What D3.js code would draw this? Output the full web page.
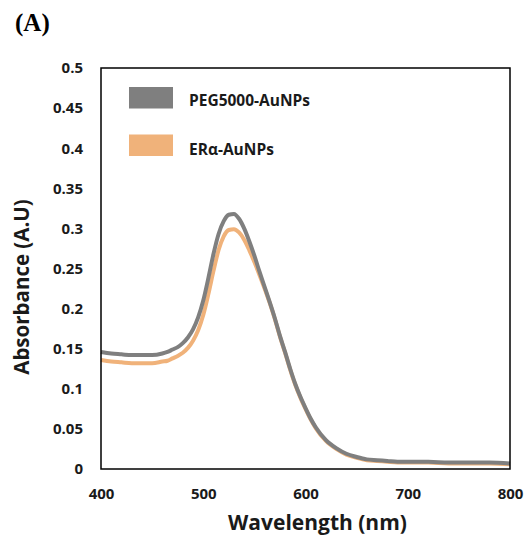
<!DOCTYPE html>
<html>
<head>
<meta charset="utf-8">
<script src="https://cdn.jsdelivr.net/npm/d3@7"></script>
<style>
  body { margin: 0; background: #fff; }
  .tick text { font-family: "Open Sans", sans-serif; font-weight: bold; font-size: 15px; fill: #1a1a1a; }
  .axis path { display: none; }
</style>
</head>
<body>
<svg id="chart"></svg>
<script>
// wavelength (nm)
const wavelengths = [400, 410, 420, 430, 440, 450, 460, 465, 470, 475, 480, 485, 490, 495, 500, 505, 510, 515, 520, 525,
  530, 535, 540, 545, 550, 555, 560, 565, 570, 575, 580, 585, 590, 595, 600, 605, 610, 620, 630, 640,
  650, 660, 670, 680, 690, 700, 720, 740, 760, 780, 800];

// absorbance, PEG5000-AuNPs
const pegValues = [0.146, 0.144, 0.143, 0.142, 0.142, 0.142, 0.144, 0.146, 0.149, 0.152, 0.157, 0.164, 0.174, 0.189, 0.210, 0.238, 0.268, 0.293, 0.309, 0.317,
  0.318, 0.312, 0.300, 0.284, 0.266, 0.246, 0.227, 0.208, 0.188, 0.166, 0.146, 0.125, 0.106, 0.090, 0.076, 0.063, 0.052, 0.036, 0.026, 0.019,
  0.015, 0.012, 0.011, 0.010, 0.009, 0.009, 0.009, 0.008, 0.008, 0.008, 0.007];

// absorbance, ERα-AuNPs
const eraValues = [0.136, 0.134, 0.133, 0.132, 0.132, 0.132, 0.134, 0.135, 0.138, 0.141, 0.145, 0.151, 0.160, 0.173, 0.192, 0.218, 0.247, 0.273, 0.290, 0.298,
  0.299, 0.295, 0.286, 0.273, 0.258, 0.242, 0.225, 0.207, 0.187, 0.165, 0.145, 0.124, 0.105, 0.089, 0.075, 0.062, 0.051, 0.035, 0.025, 0.018,
  0.014, 0.011, 0.010, 0.009, 0.008, 0.008, 0.008, 0.007, 0.007, 0.007, 0.006];

const seriesNames = ['PEG5000-AuNPs', 'ERα-AuNPs'];
const seriesColors = ['#7f7f7f', '#f0b27a'];
const yTicks = [0, 0.05, 0.1, 0.15, 0.2, 0.25, 0.3, 0.35, 0.4, 0.45, 0.5];
const xTicks = [400, 500, 600, 700, 800];

const width = 528, height = 541;
const margin = {top: 68, right: 18, bottom: 72, left: 101};
const innerW = width - margin.left - margin.right;
const innerH = height - margin.top - margin.bottom;

const svg = d3.select('#chart')
    .attr('width', width)
    .attr('height', height);

const chart = svg.append('g')
    .attr('transform', `translate(${margin.left},${margin.top})`);

const xScale = d3.scaleLinear().domain([400, 800]).range([0, innerW]);
const yScale = d3.scaleLinear().domain([0, 0.5]).range([innerH, 0]);

// axes, no tick marks
chart.append('g')
    .attr('class', 'axis x-axis')
    .attr('transform', `translate(0,${innerH})`)
    .call(d3.axisBottom(xScale).tickValues(xTicks).tickSize(0).tickPadding(19).tickFormat(d3.format('d')));

chart.append('g')
    .attr('class', 'axis y-axis')
    .call(d3.axisLeft(yScale).tickValues(yTicks).tickSize(0).tickPadding(18).tickFormat(d => d3.format('')(+d.toFixed(2))));

// curves
const series = [pegValues, eraValues];
const line = d3.line()
    .x((d, i) => xScale(wavelengths[i]))
    .y(d => yScale(d))
    .curve(d3.curveMonotoneX);

// draw orange first, grey on top
[1, 0].forEach(k => {
  chart.append('path')
      .datum(series[k])
      .attr('fill', 'none')
      .attr('stroke', seriesColors[k])
      .attr('stroke-width', 4)
      .attr('stroke-linejoin', 'round')
      .attr('d', line);
});

// plot frame
chart.append('rect')
    .attr('x', 0).attr('y', 0)
    .attr('width', innerW).attr('height', innerH)
    .attr('fill', 'none')
    .attr('stroke', '#000')
    .attr('stroke-width', 1.5);

// legend
const legend = chart.append('g').attr('transform', 'translate(28,19)');
seriesNames.forEach((name, i) => {
  const g = legend.append('g').attr('transform', `translate(0,${i * 47.5})`);
  g.append('rect')
      .attr('width', 44).attr('height', 21.5)
      .attr('fill', seriesColors[i]);
  g.append('text')
      .attr('x', 60).attr('y', 19 + i)
      .style('font-family', '"Open Sans", sans-serif')
      .style('font-weight', 'bold')
      .style('font-size', '15.5px')
      .style('fill', '#1a1a1a')
      .text(name);
});

// axis titles
svg.append('text')
    .attr('x', margin.left + innerW / 2 + 12)
    .attr('y', 530)
    .attr('text-anchor', 'middle')
    .style('font-family', '"Open Sans", sans-serif')
    .style('font-weight', 'bold')
    .style('font-size', '21px')
    .style('fill', '#1a1a1a')
    .text('Wavelength (nm)');

svg.append('text')
    .attr('transform', 'rotate(-90)')
    .attr('x', -287)
    .attr('y', 29)
    .attr('text-anchor', 'middle')
    .style('font-family', '"Open Sans", sans-serif')
    .style('font-weight', 'bold')
    .style('font-size', '20.5px')
    .style('fill', '#1a1a1a')
    .text('Absorbance (A.U)');

// panel label
svg.append('text')
    .attr('x', 15)
    .attr('y', 31)
    .style('font-family', '"Liberation Serif", serif')
    .style('font-weight', 'bold')
    .style('font-size', '25px')
    .text('(A)');
</script>
</body>
</html>
